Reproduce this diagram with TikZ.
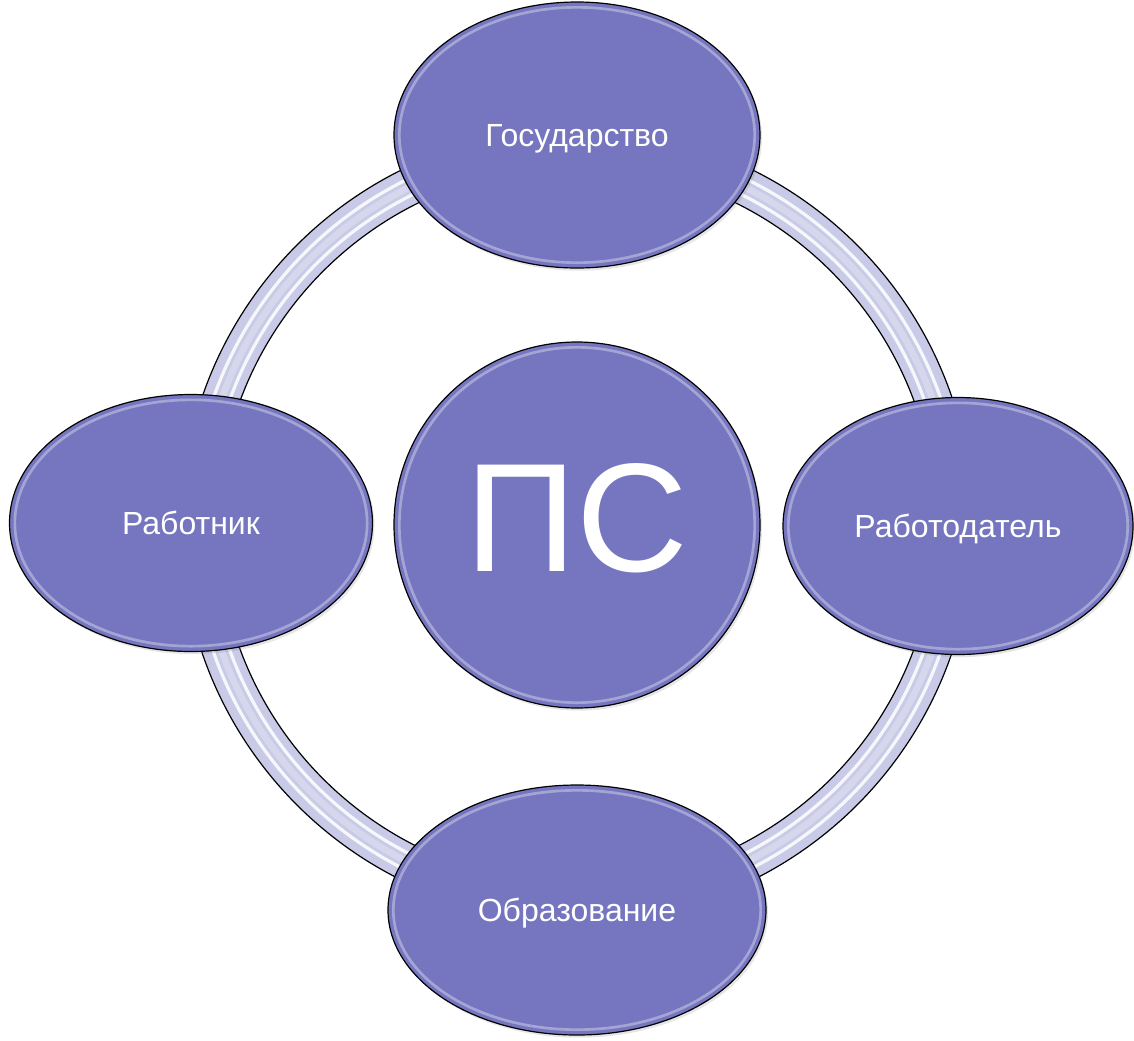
\documentclass[tikz,border=0pt]{standalone}
\usepackage{fontspec}
\setmainfont{Liberation Sans}
\usetikzlibrary{shapes.geometric,shadows,calc}

\definecolor{bubblefill}{RGB}{118,118,192}
\definecolor{ringfill}{RGB}{200,202,231}

\tikzset{
  bubble/.style={ellipse, draw=black, line width=0.9pt, fill=bubblefill, text=white,
    inner sep=0pt, text depth=0pt, font=\fontsize{24}{28}\selectfont,
    drop shadow={opacity=0.2, shadow xshift=1.5pt, shadow yshift=-2pt},
    path picture={\draw[white, opacity=0.35, line width=2pt]
      let \p1=($(path picture bounding box.north east)-(path picture bounding box.center)$)
      in (path picture bounding box.center) ellipse [x radius=abs(\x1)-4pt, y radius=abs(\y1)-4pt];}},
  ringline/.style={draw=black, line width=0.9pt},
  ringgloss/.style={draw=white, opacity=0.85, line width=2.4pt}
}

\begin{document}
\begin{tikzpicture}[x=0.75pt,y=0.75pt,yscale=-1,xscale=1]
\useasboundingbox (0,0) rectangle (1134,1040);

\coordinate (mid) at (577,525);

%Ring
\fill[ringfill, even odd rule] (mid) circle [radius=396] (mid) circle [radius=359];
\draw[bubblefill!30, line width=5pt] (mid) circle [radius=377];
\draw[ringgloss] (mid) circle [radius=369];
\draw[ringgloss] (mid) circle [radius=385];
\draw[ringline] (mid) circle [radius=396];
\draw[ringline] (mid) circle [radius=359];

%Partners
\node[bubble, minimum width=274.5pt, minimum height=199.5pt] (gos) at (577,135) {Государство};
\node[bubble, minimum width=262.5pt, minimum height=192.75pt] (empl) at (958,526) {Работодатель};
\node[bubble, minimum width=272.25pt, minimum height=192.75pt] (work) at (191,523) {Работник};
\node[bubble, minimum width=283.5pt, minimum height=187.5pt] (edu) at (577,910) {Образование};

%Centre
\node[bubble, circle, minimum size=274.5pt, text depth=12pt, font=\fontsize{116}{120}\selectfont] (ps) at (mid) {ПС};

\end{tikzpicture}
\end{document}
